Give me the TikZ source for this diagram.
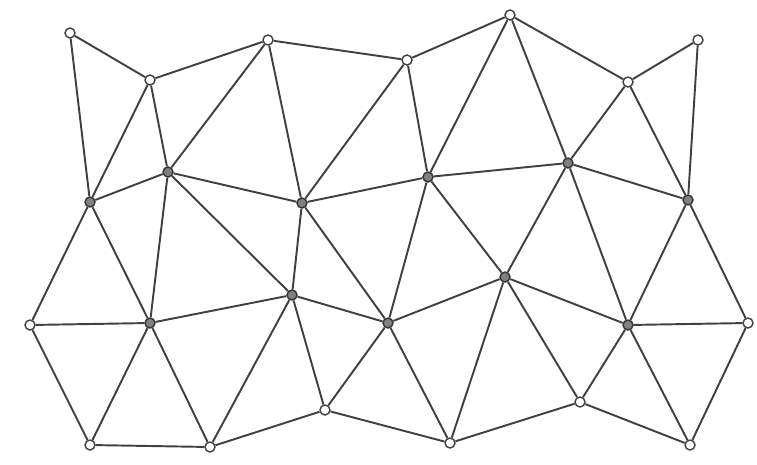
\documentclass[tikz,border=0pt]{standalone}
\usepackage{tikz}

\begin{document}
\begin{tikzpicture}[x=0.02cm, y=-0.02cm]
        \tikzstyle{rim} = [circle, draw=black!75, thick, fill=white, inner sep=0pt, minimum size=0.2cm]
        \tikzstyle{hub} = [circle, draw=black!80, thick, fill=black!50, inner sep=0pt, minimum size=0.2cm]
        \tikzstyle{edge} = [draw=black!75, line width=1.1pt]

        \useasboundingbox (0,0) rectangle (757,464);

        % top row
        \node [rim] (t1) at (70,33) {};
        \node [rim] (t2) at (150,80) {};
        \node [rim] (t3) at (268,40) {};
        \node [rim] (t4) at (407,60) {};
        \node [rim] (t5) at (510,15) {};
        \node [rim] (t6) at (628,82) {};
        \node [rim] (t7) at (698,40) {};

        % middle row
        \node [hub] (m1) at (90,202) {};
        \node [hub] (m2) at (168,172) {};
        \node [hub] (m3) at (302,203) {};
        \node [hub] (m4) at (428,177) {};
        \node [hub] (m5) at (568,163) {};
        \node [hub] (m6) at (688,200) {};

        % lower row
        \node [rim] (l0) at (30,325) {};
        \node [hub] (l1) at (150,323) {};
        \node [hub] (l2) at (292,295) {};
        \node [hub] (l3) at (388,323) {};
        \node [hub] (l4) at (505,277) {};
        \node [hub] (l5) at (628,325) {};
        \node [rim] (l6) at (748,323) {};

        % bottom row
        \node [rim] (b1) at (90,445) {};
        \node [rim] (b2) at (210,447) {};
        \node [rim] (b3) at (325,410) {};
        \node [rim] (b4) at (450,443) {};
        \node [rim] (b5) at (580,402) {};
        \node [rim] (b6) at (690,445) {};

        \draw [edge] (t1) -- (t2) -- (t3) -- (t4) -- (t5) -- (t6) -- (t7);
        \draw [edge] (m1) -- (m2) -- (m3) -- (m4) -- (m5) -- (m6);
        \draw [edge] (l0) -- (l1) -- (l2) -- (l3) -- (l4) -- (l5) -- (l6);
        \draw [edge] (b1) -- (b2) -- (b3) -- (b4) -- (b5) -- (b6);

        \draw [edge] (t1) -- (m1) -- (t2) -- (m2) -- (t3) -- (m3) -- (t4) -- (m4) -- (t5) -- (m5) -- (t6) -- (m6) -- (t7);
        \draw [edge] (l0) -- (m1) -- (l1) -- (m2) -- (l2) -- (m3) -- (l3) -- (m4) -- (l4) -- (m5) -- (l5) -- (m6) -- (l6);
        \draw [edge] (l0) -- (b1) -- (l1) -- (b2) -- (l2) -- (b3) -- (l3) -- (b4) -- (l4) -- (b5) -- (l5) -- (b6) -- (l6);

    \end{tikzpicture}
\end{document}
